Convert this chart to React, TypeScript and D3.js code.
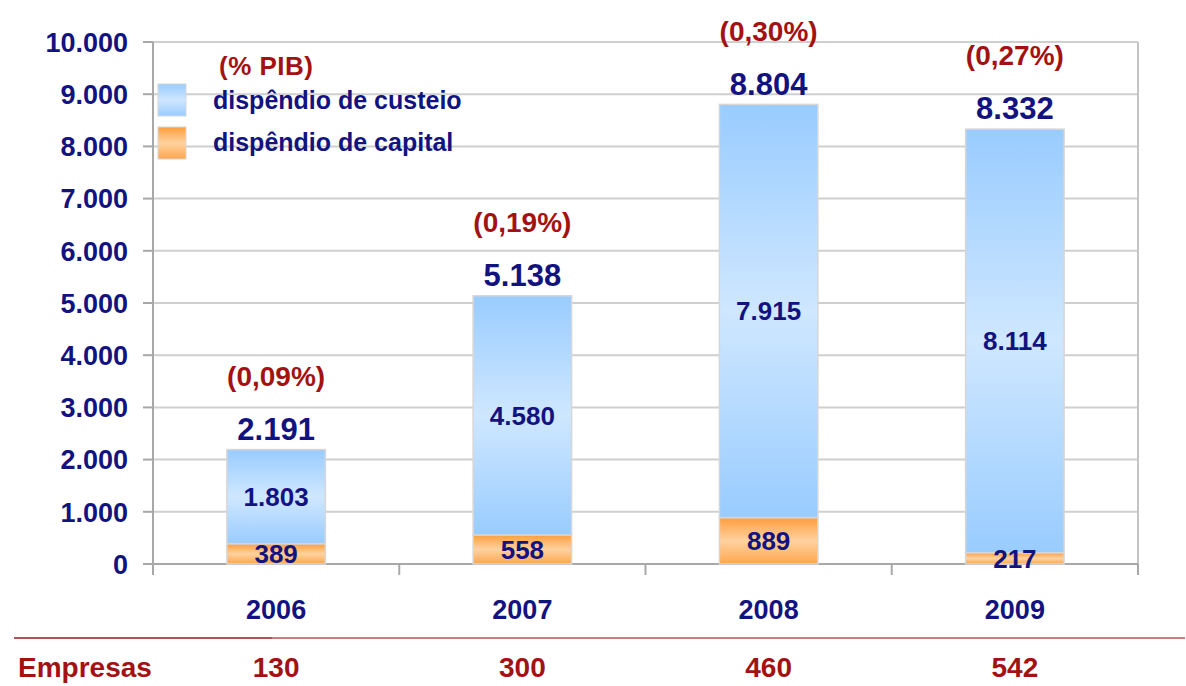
import React from "react";
import * as d3 from "d3";

const anos = ["2006", "2007", "2008", "2009"];
const custeio = [1803, 4580, 7915, 8114];
const capital = [389, 558, 889, 217];
const totais = ["2.191", "5.138", "8.804", "8.332"];
const pib = ["(0,09%)", "(0,19%)", "(0,30%)", "(0,27%)"];
const empresas = ["130", "300", "460", "542"];
const yTicks = [0, 1000, 2000, 3000, 4000, 5000, 6000, 7000, 8000, 9000, 10000];

const NAVY = "#13137f";
const RED = "#a31212";
const FONT = "'Liberation Sans', Arial, sans-serif";

const fmt = (v: number) => d3.format(",")(v).replace(/,/g, ".");

const App = () => {
    const width = 1186;
    const height = 686;
    const left = 153;
    const right = 1138;
    const top = 42;
    const bottom = 564;

    const x = d3.scaleBand().domain(anos).range([left, right]).paddingInner(0.6).paddingOuter(0.3);
    const y = d3.scaleLinear().domain([0, 10000]).range([bottom, top]);

    const rows = anos.map((a, i) => ({ano: a, capital: capital[i], custeio: custeio[i]}));
    const stack = d3.stack<any>().keys(["capital", "custeio"])(rows);
    const step = (right - left) / anos.length;
    const bounds = d3.range(anos.length + 1).map(i => left + i * step);
    const cx = (a: string) => x(a)! + x.bandwidth() / 2;

    return (
        <svg width={width} height={height} style={{position: "absolute", left: 0, top: 0, background: "#fff"}}
             fontFamily={FONT} fontWeight="bold">
            <defs>
                <linearGradient id="gBlue" x1="0" y1="0" x2="0" y2="1">
                    <stop offset="0" stopColor="#99ccff"/>
                    <stop offset="0.5" stopColor="#cfe7ff"/>
                    <stop offset="1" stopColor="#99ccff"/>
                </linearGradient>
                <linearGradient id="gOrange" x1="0" y1="0" x2="0" y2="1">
                    <stop offset="0" stopColor="#ff9d3c"/>
                    <stop offset="0.5" stopColor="#ffd2a0"/>
                    <stop offset="1" stopColor="#ffa64d"/>
                </linearGradient>
            </defs>

            {/* grid */}
            {yTicks.map(t => (
                <line key={t} x1={left} x2={right} y1={y(t)} y2={y(t)} stroke="#cfcfcf" strokeWidth={2}/>
            ))}
            <line x1={right} x2={right} y1={top} y2={bottom} stroke="#c4c4c4" strokeWidth={2}/>
            <line x1={left} x2={left} y1={top} y2={bottom + 10} stroke="#a8a8a8" strokeWidth={2}/>
            <line x1={left} x2={right} y1={bottom} y2={bottom} stroke="#a8a8a8" strokeWidth={2}/>
            {yTicks.map(t => (
                <line key={"tk" + t} x1={left - 10} x2={left} y1={y(t)} y2={y(t)} stroke="#a8a8a8" strokeWidth={2}/>
            ))}
            {bounds.map((b, i) => (
                <line key={"bx" + i} x1={b} x2={b} y1={bottom} y2={bottom + 11} stroke="#a8a8a8" strokeWidth={2}/>
            ))}

            {/* y tick labels */}
            {yTicks.map(t => (
                <text key={"yl" + t} x={128} y={y(t)} dy="0.36em" textAnchor="end" fontSize={27} fill={NAVY}>
                    {fmt(t)}
                </text>
            ))}

            {/* bars */}
            {stack.map((s, si) => s.map((d, i) => (
                <rect key={si + "-" + i} x={x(anos[i])} width={x.bandwidth()} y={y(d[1])}
                      height={y(d[0]) - y(d[1])} fill={si === 0 ? "url(#gOrange)" : "url(#gBlue)"}
                      stroke="#d6d6d6" strokeWidth={1.5}/>
            )))}

            {/* inner labels */}
            {stack.map((s, si) => s.map((d, i) => (
                <text key={"il" + si + i} x={cx(anos[i])} y={(y(d[0]) + y(d[1])) / 2}
                      dy="0.36em" textAnchor="middle" fontSize={26} fill={NAVY}>
                    {fmt(si === 0 ? capital[i] : custeio[i])}
                </text>
            )))}

            {/* totals and PIB */}
            {anos.map((a, i) => {
                const ty = y(custeio[i] + capital[i]);
                return (
                    <g key={"tot" + a}>
                        <text x={cx(a)} y={ty - 21} dy="0.36em" textAnchor="middle" fontSize={31} fill={NAVY}>
                            {totais[i]}
                        </text>
                        <text x={cx(a)} y={ty - 74} dy="0.36em" textAnchor="middle" fontSize={28} fill={RED}>
                            {pib[i]}
                        </text>
                    </g>
                );
            })}

            {/* legend */}
            <text x={219} y={66} dy="0.36em" fontSize={26} fill={RED} letterSpacing={0.5}>(% PIB)</text>
            <rect x={158} y={84} width={28} height={32} fill="url(#gBlue)" stroke="#d6d6d6"/>
            <rect x={158} y={127} width={28} height={32} fill="url(#gOrange)" stroke="#d6d6d6"/>
            <text x={213} y={100} dy="0.36em" fontSize={25} fill={NAVY}>dispêndio de custeio</text>
            <text x={213} y={142} dy="0.36em" fontSize={25} fill={NAVY}>dispêndio de capital</text>

            {/* x labels */}
            {anos.map(a => (
                <text key={"xl" + a} x={cx(a)} y={609} dy="0.36em" textAnchor="middle"
                      fontSize={27} fill={NAVY}>{a}</text>
            ))}

            <line x1={14} x2={272} y1={638} y2={638} stroke="#b85252" strokeWidth={2}/>
            <line x1={272} x2={1185} y1={638} y2={638} stroke="#cc7d7d" strokeWidth={2}/>
            <text x={18} y={667} dy="0.36em" fontSize={28} fill={RED}>Empresas</text>
            {anos.map((a, i) => (
                <text key={"em" + a} x={cx(a)} y={667} dy="0.36em" textAnchor="middle"
                      fontSize={28} fill={RED}>{empresas[i]}</text>
            ))}
        </svg>
    );
};

export default App;
